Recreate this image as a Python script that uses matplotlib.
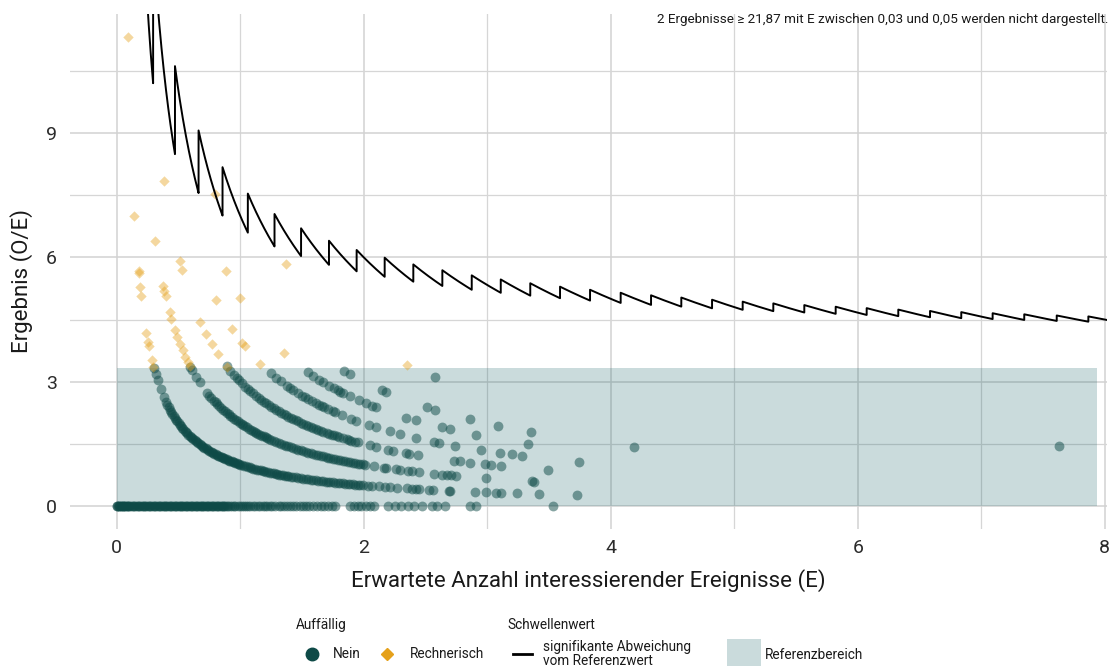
import numpy as np
import matplotlib
matplotlib.use("Agg")
import matplotlib.pyplot as plt
from matplotlib.patches import Rectangle

plt.rcParams['font.family'] = ['Roboto', 'DejaVu Sans']

# --- data ---
# expected events E for units with observed O = 0, 1, 2, ... (not conspicuous)
nein_e_o0 = [0.00, 0.005, 0.01, 0.015, 0.02, 0.03, 0.035, 0.04, 0.05, 0.055, 0.06, 0.07, 0.08,
             0.085, 0.09, 0.10, 0.11, 0.12, 0.13, 0.14, 0.15, 0.16, 0.17, 0.18, 0.19, 0.20, 0.21,
             0.22, 0.23, 0.24, 0.25, 0.26, 0.27, 0.28, 0.29, 0.30, 0.31, 0.32, 0.33, 0.34, 0.35,
             0.36, 0.37, 0.38, 0.39, 0.40, 0.41, 0.42, 0.43, 0.44, 0.45, 0.46, 0.47, 0.48, 0.49,
             0.50, 0.51, 0.52, 0.53, 0.54, 0.55, 0.56, 0.57, 0.58, 0.59, 0.60, 0.61, 0.62, 0.63,
             0.64, 0.65, 0.66, 0.67, 0.68, 0.69, 0.70, 0.71, 0.72, 0.73, 0.74, 0.75, 0.76, 0.77,
             0.78, 0.79, 0.80, 0.81, 0.82, 0.83, 0.84, 0.85, 0.86, 0.87, 0.88, 0.89, 0.90, 0.92,
             0.93, 0.95, 0.96, 0.98, 1.00, 1.01, 1.03, 1.05, 1.06, 1.08, 1.10, 1.12, 1.14, 1.16,
             1.18, 1.20, 1.22, 1.24, 1.26, 1.28, 1.31, 1.33, 1.35, 1.38, 1.40, 1.43, 1.45, 1.48,
             1.51, 1.53, 1.56, 1.59, 1.62, 1.65, 1.68, 1.71, 1.74, 1.77, 1.89, 1.92, 1.95, 1.98,
             2.02, 2.05, 2.08, 2.20, 2.25, 2.30, 2.36, 2.41, 2.47, 2.55, 2.59, 2.66, 2.86, 2.91,
             3.53]
nein_e_o1 = [0.30, 0.315, 0.33, 0.355, 0.38, 0.40, 0.41, 0.42, 0.43, 0.44, 0.45, 0.46, 0.47, 0.48,
             0.49, 0.50, 0.51, 0.52, 0.53, 0.54, 0.55, 0.56, 0.57, 0.58, 0.59, 0.60, 0.61, 0.62,
             0.63, 0.64, 0.65, 0.66, 0.67, 0.68, 0.69, 0.70, 0.71, 0.72, 0.73, 0.74, 0.75, 0.76,
             0.77, 0.78, 0.79, 0.80, 0.81, 0.82, 0.83, 0.84, 0.85, 0.86, 0.87, 0.88, 0.89, 0.90,
             0.91, 0.92, 0.93, 0.94, 0.95, 0.96, 0.97, 0.98, 0.99, 1.00, 1.015, 1.03, 1.045, 1.06,
             1.075, 1.09, 1.105, 1.12, 1.135, 1.15, 1.165, 1.18, 1.195, 1.21, 1.225, 1.24, 1.255,
             1.27, 1.285, 1.30, 1.315, 1.33, 1.345, 1.36, 1.375, 1.39, 1.41, 1.43, 1.45, 1.47,
             1.49, 1.51, 1.53, 1.55, 1.57, 1.59, 1.61, 1.63, 1.65, 1.67, 1.69, 1.71, 1.73, 1.75,
             1.77, 1.79, 1.81, 1.83, 1.85, 1.87, 1.89, 1.91, 1.93, 1.95, 1.97, 1.99, 2.03, 2.07,
             2.12, 2.17, 2.21, 2.27, 2.35, 2.39, 2.42, 2.45, 2.53, 2.56, 2.69, 2.70, 2.90, 2.99,
             3.07, 3.11, 3.24, 3.42, 3.73]
nein_e_o2 = [0.595, 0.61, 0.64, 0.67, 0.73, 0.75, 0.765, 0.79, 0.80, 0.815, 0.83, 0.845, 0.86,
             0.875, 0.89, 0.905, 0.92, 0.935, 0.95, 0.965, 0.98, 0.995, 1.01, 1.025, 1.04, 1.055,
             1.07, 1.085, 1.10, 1.115, 1.13, 1.145, 1.16, 1.175, 1.19, 1.205, 1.22, 1.235, 1.25,
             1.27, 1.29, 1.31, 1.33, 1.35, 1.37, 1.39, 1.41, 1.43, 1.45, 1.47, 1.49, 1.51, 1.53,
             1.55, 1.57, 1.59, 1.61, 1.63, 1.65, 1.67, 1.69, 1.71, 1.73, 1.75, 1.77, 1.79, 1.81,
             1.83, 1.85, 1.87, 1.89, 1.91, 1.93, 1.95, 1.97, 1.99, 2.01, 2.08, 2.16, 2.18, 2.26,
             2.29, 2.36, 2.39, 2.45, 2.57, 2.63, 2.67, 2.71, 2.75, 2.99, 3.36, 3.38]
nein_e_o3 = [0.89, 0.92, 0.95, 0.97, 0.99, 1.01, 1.04, 1.06, 1.08, 1.10, 1.13, 1.15, 1.17, 1.19,
             1.21, 1.23, 1.25, 1.27, 1.29, 1.31, 1.33, 1.35, 1.37, 1.39, 1.41, 1.43, 1.45, 1.47,
             1.49, 1.51, 1.53, 1.55, 1.57, 1.59, 1.61, 1.63, 1.65, 1.67, 1.70, 1.72, 1.74, 1.76,
             1.78, 1.80, 1.83, 1.86, 1.88, 1.90, 1.93, 1.95, 2.05, 2.10, 2.20, 2.24, 2.34, 2.37,
             2.44, 2.73, 2.78, 2.86, 2.98, 3.03, 3.11, 3.49]
nein_e_o4 = [1.25, 1.29, 1.33, 1.38, 1.40, 1.43, 1.47, 1.50, 1.52, 1.55, 1.58, 1.61, 1.64, 1.66,
             1.68, 1.71, 1.75, 1.77, 1.82, 1.90, 1.94, 2.045, 2.10, 2.21, 2.29, 2.42, 2.57, 2.61,
             2.74, 2.95, 3.10, 3.20, 3.28, 3.74]
nein_e_o5 = [1.55, 1.59, 1.64, 1.67, 1.72, 1.76, 1.79, 1.81, 1.83, 1.89, 1.96, 2.02, 2.07, 2.10,
             2.345, 2.42, 2.63, 2.70, 2.91, 3.33]
nein_e_o6 = [1.84, 1.89, 2.15, 2.18, 2.515, 2.58, 2.86, 3.09, 3.35, 4.19]
nein_e_o8 = [2.578]
nein_e_o11 = [7.63]

# conspicuous ("Rechnerisch") units: expected E and observed O
rech_e = [0.0884, 0.143, 0.176, 0.178, 0.189, 0.197, 0.239, 0.253, 0.259, 0.283, 0.297,
          0.313, 0.377, 0.385, 0.395, 0.427, 0.442, 0.472, 0.49, 0.51, 0.532, 0.556, 0.575, 0.593,
          0.383, 0.508, 0.526, 0.677, 0.724, 0.769, 0.82, 0.893,
          0.806, 0.934, 1.015, 1.036, 1.163,
          0.882, 0.994, 1.355,
          0.798, 1.372, 2.353]
rech_o = [1, 1, 1, 1, 1, 1, 1, 1, 1, 1, 1,
          2, 2, 2, 2, 2, 2, 2, 2, 2, 2, 2, 2, 2,
          3, 3, 3, 3, 3, 3, 3, 3,
          4, 4, 4, 4, 4,
          5, 5, 5,
          6, 8, 8]

# threshold: critical O jumps by one at each of these E values (starting at O = 3)
thr_start_o = 3
thr_breaks = [0.294, 0.471, 0.662, 0.856, 1.061, 1.277, 1.492, 1.718, 1.942, 2.169, 2.401,
              2.636, 2.874, 3.109, 3.348, 3.589, 3.832, 4.080, 4.326, 4.571, 4.820, 5.068,
              5.316, 5.567, 5.821, 6.072, 6.328, 6.585, 6.838, 7.092, 7.348, 7.611, 7.867]

ref_upper = 3.33     # Referenzbereich O/E <= 3.33
ref_e_max = 7.94

note = "2 Ergebnisse \u2265 21,87 mit E zwischen 0,03 und 0,05 werden nicht dargestellt."

green = '#0e4a47'
orange = '#e5a11b'
ref_col = '#0f5e63'

fig = plt.figure(figsize=(11.13, 6.66), dpi=100)
ax = fig.add_axes([0.0626, 0.2050, 0.9320, 0.7741])

# reference range (translucent, over the grid)
ax.add_patch(Rectangle((0, 0), ref_e_max, ref_upper, facecolor=ref_col, alpha=0.22,
                       edgecolor='none', zorder=1))

# not conspicuous points
groups = [(0, nein_e_o0), (1, nein_e_o1), (2, nein_e_o2), (3, nein_e_o3), (4, nein_e_o4),
          (5, nein_e_o5), (6, nein_e_o6), (8, nein_e_o8), (11, nein_e_o11)]
for o, es in groups:
    es = np.array(es)
    ax.scatter(es, o / es if o > 0 else np.zeros_like(es), s=50, color=green, alpha=0.5,
               linewidths=0, zorder=3)

# conspicuous points
re = np.array(rech_e)
ax.scatter(re, np.array(rech_o) / re, s=28, marker='D', color=orange, alpha=0.42,
           linewidths=0, zorder=3)

# threshold sawtooth
edges = [0.2] + thr_breaks + [8.2]
xs, ys = [], []
for i in range(len(edges) - 1):
    seg = np.linspace(edges[i], edges[i + 1], 40)
    xs.append(seg)
    ys.append((thr_start_o + i) / seg)
ax.plot(np.concatenate(xs), np.concatenate(ys), color='black', lw=1.4, zorder=4)

ax.set_xlim(-0.3817, 8.018)
ax.set_ylim(-0.5655, 11.876)
ax.set_xticks([0, 2, 4, 6, 8])
ax.set_xticks([1, 3, 5, 7], minor=True)
ax.set_yticks([0, 3, 6, 9])
ax.set_yticks([1.5, 4.5, 7.5, 10.5], minor=True)
ax.grid(which='major', color='#d2d2d2', lw=1.1, zorder=0)
ax.grid(which='minor', color='#d6d6d6', lw=0.9, zorder=0)
ax.set_axisbelow(True)
for sp in ax.spines.values():
    sp.set_visible(False)
ax.tick_params(which='both', length=0, labelsize=14, labelcolor='#2b2b2b')
ax.tick_params(axis='y', pad=9)
ax.tick_params(axis='x', pad=7)

ax.set_xlabel('Erwartete Anzahl interessierender Ereignisse (E)', fontsize=16, color='#1a1a1a')
ax.set_ylabel('Ergebnis (O/E)', fontsize=16, color='#1a1a1a')
ax.xaxis.set_label_coords(0.5, -0.0999)
ax.xaxis.label.set_verticalalignment('center')
ax.yaxis.set_label_coords(-0.046, 0.482)
ax.yaxis.label.set_verticalalignment('center')
ax.yaxis.label.set_horizontalalignment('center')

fig.text(1108 / 1113, 1 - 20 / 666, note, ha='right', va='center', fontsize=9.7, color='#1a1a1a')

# legend drawn in pixel coordinates on an overlay axes
lg = fig.add_axes([0, 0, 1, 1], facecolor='none')
lg.set_xlim(0, 1113)
lg.set_ylim(666, 0)
lg.axis('off')
fs = 9.8
tc = '#1a1a1a'
lg.text(296, 625, 'Auffällig', fontsize=fs, va='center', color=tc)
lg.plot([312], [654], 'o', ms=9, color=green)
lg.text(333, 654, 'Nein', fontsize=fs, va='center', color=tc)
lg.plot([387], [654], 'D', ms=6, color=orange)
lg.text(410, 654, 'Rechnerisch', fontsize=fs, va='center', color=tc)
lg.text(507, 625, 'Schwellenwert', fontsize=fs, va='center', color=tc)
lg.plot([513, 532], [654, 654], color='black', lw=2)
lg.text(543, 654, 'signifikante Abweichung\nvom Referenzwert', fontsize=fs, va='center',
        color=tc, linespacing=1.0)
lg.add_patch(Rectangle((727, 639), 34, 30, facecolor=ref_col, alpha=0.22, edgecolor='none'))
lg.text(765, 655, 'Referenzbereich', fontsize=fs, va='center', color=tc)

fig.savefig('out.png', dpi=100)
